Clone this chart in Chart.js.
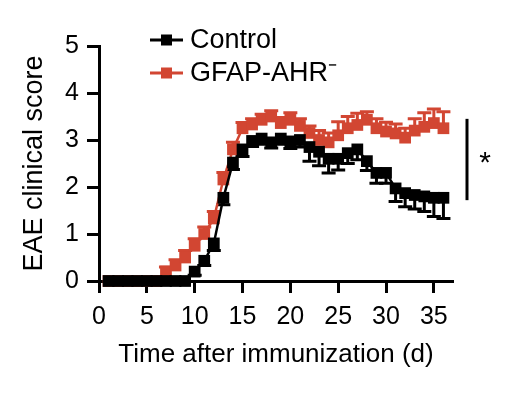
<!DOCTYPE html>
<html>
<head>
<meta charset="utf-8">
<script src="https://cdn.jsdelivr.net/npm/chart.js@4"></script>
<style>
  body { margin: 0; background: #fff; }
  #wrap { width: 514px; height: 394px; }
</style>
</head>
<body>
<div id="wrap"><canvas id="eaeChart"></canvas></div>
<script>
const days = [1,2,3,4,5,6,7,8,9,10,11,12,13,14,15,16,17,18,19,20,21,22,23,24,25,26,27,28,29,30,31,32,33,34,35,36];
const control = [0,0,0,0,0,0,0,0,0,0.2,0.43,0.8,1.77,2.52,2.8,2.98,3.03,2.95,3.03,2.97,3.0,2.85,2.75,2.6,2.6,2.72,2.8,2.55,2.3,2.3,1.97,1.87,1.83,1.8,1.77,1.77];
const controlErr = [0,0,0,0,0,0,0,0,0,0.08,0.1,0.15,0.15,0.15,0.15,0.12,0.12,0.12,0.12,0.15,0.15,0.3,0.3,0.3,0.24,0.22,0.22,0.2,0.22,0.22,0.28,0.29,0.3,0.32,0.4,0.44];
const gfap = [0,0,0,0,0,0,0.2,0.33,0.5,0.75,1.0,1.33,2.16,2.8,3.25,3.33,3.43,3.5,3.36,3.43,3.3,3.15,3.0,2.95,3.1,3.25,3.32,3.43,3.25,3.18,3.14,3.05,3.2,3.28,3.36,3.25];
const gfapErr = [0,0,0,0,0,0,0.1,0.12,0.15,0.15,0.15,0.15,0.15,0.15,0.12,0.12,0.12,0.12,0.12,0.15,0.15,0.15,0.2,0.2,0.29,0.25,0.25,0.17,0.2,0.2,0.2,0.2,0.25,0.3,0.3,0.35];
const xTicks = [0,5,10,15,20,25,30,35];
const yTicks = [0,1,2,3,4,5];

const red = '#d24632';
const fontFam = "'Liberation Sans', Arial, Helvetica, sans-serif";

// error bars: control goes down, GFAP goes up
const errorBars = {
    id: 'errorBars',
    beforeDatasetsDraw(chart) {
        const ctx = chart.ctx;
        const ys = chart.scales.y;
        chart.data.datasets.forEach((ds, i) => {
            const meta = chart.getDatasetMeta(i);
            ctx.save();
            ctx.strokeStyle = ds.borderColor;
            ctx.lineWidth = 3;
            meta.data.forEach((pt, j) => {
                const e = ds.errors[j];
                if (!e) return;
                const v = ds.data[j].y + ds.errDir * e;
                const yp = ys.getPixelForValue(v);
                ctx.beginPath();
                ctx.moveTo(pt.x, pt.y);
                ctx.lineTo(pt.x, yp);
                ctx.moveTo(pt.x - 7, yp);
                ctx.lineTo(pt.x + 7, yp);
                ctx.stroke();
            });
            ctx.restore();
        });
    },
    afterDraw(chart) {
        const ctx = chart.ctx;
        const ys = chart.scales.y;
        ctx.save();
        // legend
        chart.data.datasets.forEach((ds, i) => {
            const y = 40 + i * 33;
            ctx.strokeStyle = ds.borderColor;
            ctx.fillStyle = ds.borderColor;
            ctx.lineWidth = 3;
            ctx.beginPath();
            ctx.moveTo(150, y);
            ctx.lineTo(183, y);
            ctx.stroke();
            ctx.fillRect(161, y - 5.5, 11, 11);
            ctx.fillStyle = '#000';
            ctx.font = '27px ' + fontFam;
            ctx.textBaseline = 'middle';
            ctx.fillText(ds.label, 190, y + 1);
        });
        // significance bar
        const y1 = ys.getPixelForValue(3.45);
        const y2 = ys.getPixelForValue(1.72);
        ctx.strokeStyle = '#000';
        ctx.lineWidth = 3;
        ctx.beginPath();
        ctx.moveTo(467, y1);
        ctx.lineTo(467, y2);
        ctx.stroke();
        ctx.fillStyle = '#000';
        ctx.font = '30px ' + fontFam;
        ctx.textAlign = 'center';
        ctx.textBaseline = 'middle';
        ctx.fillText('*', 485, (y1 + y2) / 2 + 4);
        ctx.restore();
    }
};

new Chart(document.getElementById('eaeChart'), {
    type: 'line',
    data: {
        datasets: [
            {
                label: 'Control',
                data: days.map((d, i) => ({ x: d, y: control[i] })),
                errors: controlErr,
                errDir: -1,
                borderColor: '#000',
                backgroundColor: '#000',
                borderWidth: 2.5,
                pointStyle: 'rect',
                pointRadius: 8.3,
                pointBorderWidth: 0,
                tension: 0,
                clip: false
            },
            {
                label: 'GFAP-AHR\u207B',
                data: days.map((d, i) => ({ x: d, y: gfap[i] })),
                errors: gfapErr,
                errDir: 1,
                borderColor: red,
                backgroundColor: red,
                borderWidth: 2.5,
                pointStyle: 'rect',
                pointRadius: 8.3,
                pointBorderWidth: 0,
                tension: 0,
                clip: false
            }
        ]
    },
    options: {
        responsive: true,
        maintainAspectRatio: false,
        animation: false,
        events: [],
        layout: { padding: { top: 46, right: 61, left: 0, bottom: 0 } },
        plugins: {
            legend: { display: false },
            tooltip: { enabled: false }
        },
        scales: {
            x: {
                type: 'linear',
                min: 0,
                max: 37,
                afterBuildTicks(scale) { scale.ticks = xTicks.map(v => ({ value: v })); },
                afterFit(scale) { scale.height = 113; },
                ticks: { color: '#000', padding: 9, font: { size: 25, family: fontFam } },
                grid: { display: true, drawOnChartArea: false, drawTicks: true, tickLength: 12, tickWidth: 3, tickColor: '#000' },
                border: { display: true, color: '#000', width: 3 },
                title: { display: true, text: 'Time after immunization (d)', color: '#000', padding: { top: 0, bottom: 24 }, font: { size: 26, family: fontFam } }
            },
            y: {
                min: 0,
                max: 5,
                afterBuildTicks(scale) { scale.ticks = yTicks.map(v => ({ value: v })); },
                afterFit(scale) { scale.width = 99; },
                ticks: { color: '#000', padding: 8, font: { size: 25, family: fontFam } },
                grid: { display: true, drawOnChartArea: false, drawTicks: true, tickLength: 12, tickWidth: 3, tickColor: '#000' },
                border: { display: true, color: '#000', width: 3 },
                title: { display: true, text: 'EAE clinical score', color: '#000', padding: { top: 18, bottom: 0 }, font: { size: 27, family: fontFam } }
            }
        }
    },
    plugins: [errorBars]
});
</script>
</body>
</html>
